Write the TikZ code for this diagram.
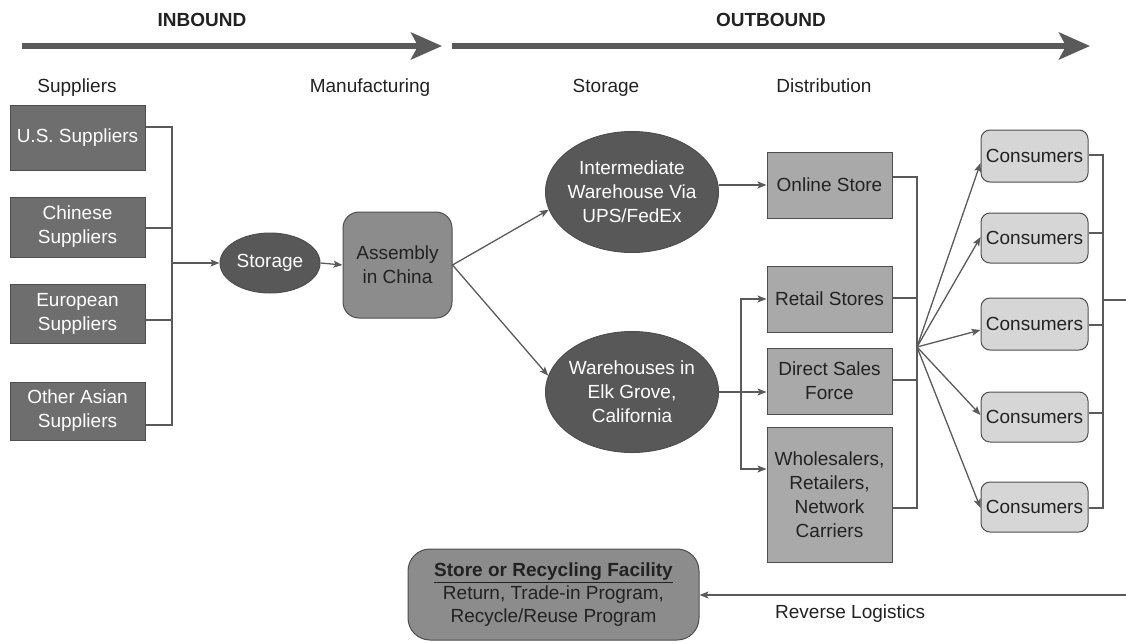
\documentclass[tikz,border=0pt]{standalone}
\usepackage{fontspec}
\setmainfont{Liberation Sans}
\usetikzlibrary{shapes.geometric,arrows.meta}
\definecolor{linegray}{HTML}{5A5A5A}
\definecolor{darkfill}{HTML}{6E6E6E}
\definecolor{ovalfill}{HTML}{585858}
\definecolor{midfill}{HTML}{8C8C8C}
\definecolor{lightfill}{HTML}{A9A9A9}
\definecolor{palefill}{HTML}{D6D6D6}
\definecolor{edgegray}{HTML}{4E4E4E}
\definecolor{inkgray}{HTML}{222222}
\begin{document}
\begin{tikzpicture}[x=1pt,y=-1pt,
  every node/.style={font=\fontsize{19}{24}\selectfont, inner sep=0pt, align=center},
  supbox/.style={rectangle, draw=edgegray, line width=1pt, fill=darkfill, text=white, minimum width=135pt},
  oval/.style={ellipse, draw=edgegray, line width=1pt, fill=ovalfill, text=white, inner xsep=-8pt, inner ysep=0pt},
  asmbox/.style={rectangle, rounded corners=16pt, draw=edgegray, line width=1pt, fill=midfill, text=inkgray},
  distbox/.style={rectangle, draw=edgegray, line width=1pt, fill=lightfill, text=inkgray, minimum width=125pt},
  consbox/.style={rectangle, rounded corners=9pt, draw=edgegray, line width=1pt, fill=palefill, text=inkgray, minimum width=107pt, minimum height=51pt},
  conn/.style={draw=linegray, line width=1.3pt},
  arr/.style={conn, -{Stealth[length=9pt,width=7pt,inset=2pt]}},
  phase/.style={draw=linegray, line width=5.5pt, -{Stealth[length=31pt,width=27pt,inset=7pt]}},
  head/.style={text=inkgray, anchor=base},
  phasehead/.style={font=\bfseries\fontsize{19}{24}\selectfont, text=inkgray, anchor=base}
]
\useasboundingbox (0,0) rectangle (1126,643);

% phase arrows and headings
\coordinate (inS) at (22,46);
\coordinate (inE) at (442,46);
\coordinate (outS) at (452,46);
\coordinate (outE) at (1090,46);
\draw[phase] (inS) -- (inE);
\draw[phase] (outS) -- (outE);
\node[phasehead] (inb) at (202,26) {INBOUND};
\node[phasehead] (outb) at (771,26) {OUTBOUND};
\node[head] (hsup) at (77,92) {Suppliers};
\node[head] (hman) at (370,92) {Manufacturing};
\node[head] (hsto) at (606,92) {Storage};
\node[head] (hdis) at (824,92) {Distribution};

% suppliers
\node[supbox, minimum height=65pt] (us) at (77.5,137.5) {U.S. Suppliers};
\node[supbox, minimum height=60pt] (cn) at (77.5,227) {Chinese\\Suppliers};
\node[supbox, minimum height=59pt] (eu) at (77.5,313.5) {European\\Suppliers};
\node[supbox, minimum height=58pt] (oa) at (77.5,411) {Other Asian\\Suppliers};

% manufacturing
\node[oval, minimum width=100pt, minimum height=60pt] (stor) at (270,263) {Storage};
\node[asmbox, minimum width=109pt, minimum height=106pt] (asm) at (397.5,265) {Assembly\\in China};

\coordinate (sbus) at (172,263);
\draw[conn] ([yshift=10.5pt]us.east) -| (sbus);
\draw[conn] ([yshift=-1pt]cn.east) -| (sbus);
\draw[conn] ([yshift=-6.5pt]eu.east) -| (sbus);
\draw[conn] ([yshift=-14pt]oa.east) -| (sbus);
\draw[arr] (sbus) -- (stor.west);
\draw[arr] (stor.east) -- (asm.west);

% storage
\node[oval, minimum width=173pt, minimum height=121pt] (iw) at (632,192) {Intermediate\\Warehouse Via\\UPS/FedEx};
\node[oval, minimum width=173pt, minimum height=121pt] (eg) at (632,392) {Warehouses in\\Elk Grove,\\California};
\draw[arr] (asm.east) -- (iw.192);
\draw[arr] (asm.east) -- (eg.169);

% distribution
\node[distbox, minimum height=66pt] (os) at (829.5,185) {Online Store};
\node[distbox, minimum height=66pt] (rs) at (829.5,299) {Retail Stores};
\node[distbox, minimum height=66pt] (ds) at (829.5,381) {Direct Sales\\Force};
\node[distbox, minimum height=135pt] (ws) at (829.5,494.5) {Wholesalers,\\Retailers,\\Network\\Carriers};

\draw[arr] (iw.east |- os.west) -- (os.west);
\coordinate (ebus) at (741,392);
\draw[conn] (eg.east) -- (ebus);
\draw[arr] (ebus) -- (ds.west |- ebus);
\draw[arr] (ebus) |- (rs.west);
\draw[arr] (ebus) |- ([yshift=25.5pt]ws.west);

% consumers
\node[consbox, minimum height=52pt] (c1) at (1034.5,156) {Consumers};
\node[consbox, minimum height=50pt] (c2) at (1034.5,238) {Consumers};
\node[consbox, minimum height=52pt] (c3) at (1034.5,324) {Consumers};
\node[consbox, minimum height=50pt] (c4) at (1034.5,417) {Consumers};
\node[consbox, minimum height=50pt] (c5) at (1034.5,507) {Consumers};

\coordinate (dbus) at (917,347);
\draw[conn] ([yshift=8pt]os.east) -| (dbus);
\draw[conn] ([yshift=1pt]rs.east) -| (dbus);
\draw[conn] ([yshift=1pt]ds.east) -| (dbus);
\draw[conn] ([yshift=-13.5pt]ws.east) -| (dbus);
\draw[arr] (dbus) -- ([yshift=-7pt]c1.west);
\draw[arr] (dbus) -- ([yshift=1pt]c2.west);
\draw[arr] (dbus) -- ([yshift=-6pt]c3.west);
\draw[arr] (dbus) -- ([yshift=2pt]c4.west);
\draw[arr] (dbus) -- ([yshift=-1pt]c5.west);

\coordinate (cbus) at (1103,300);
\coordinate (cexit) at (1126,300);
\draw[conn] ([yshift=1pt]c1.east) -| (cbus);
\draw[conn] ([yshift=5pt]c2.east) -| (cbus);
\draw[conn] ([yshift=-1pt]c3.east) -| (cbus);
\draw[conn] ([yshift=4pt]c4.east) -| (cbus);
\draw[conn] ([yshift=-1pt]c5.east) -| (cbus);
\draw[conn] (cbus) -- (cexit);

% reverse logistics
\node[asmbox, rounded corners=22pt, minimum width=291pt, minimum height=91pt, font=\fontsize{19}{23}\selectfont] (rec) at (553.5,594.5)
  {{\bfseries\underline{Store or Recycling Facility}}\\Return, Trade-in Program,\\Recycle/Reuse Program};
\coordinate (rstart) at (1126,595);
\draw[arr] (rstart) -- (rec.east |- rstart);
\node[head, anchor=base west] (rlab) at (775,618) {Reverse Logistics};
\end{tikzpicture}
\end{document}
